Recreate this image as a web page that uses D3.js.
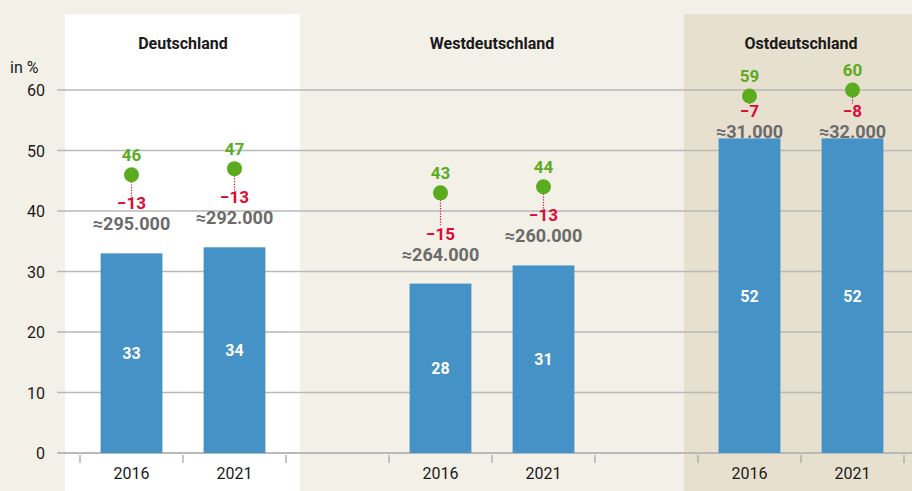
<!DOCTYPE html>
<html>
<head>
<meta charset="utf-8">
<script src="https://cdn.jsdelivr.net/npm/d3@7"></script>
<style>
  html, body { margin: 0; padding: 0; background: #f3f0e8; }
  svg { display: block; font-family: Roboto, "Open Sans", sans-serif; }
</style>
</head>
<body>
<div id="chart"></div>
<script>
// Values
const regions = ["Deutschland", "Westdeutschland", "Ostdeutschland"];
const years = ["2016", "2021"];
const barValues = [33, 34, 28, 31, 52, 52];
const dotValues = [46, 47, 43, 44, 59, 60];
const diffLabels = ["\u221213", "\u221213", "\u221215", "\u221213", "\u22127", "\u22128"];
const countLabels = ["\u2248295.000", "\u2248292.000", "\u2248264.000", "\u2248260.000", "\u224831.000", "\u224832.000"];
const yTicks = [0, 10, 20, 30, 40, 50, 60];

const width = 912, height = 491;
const colors = {
  bg: "#f3f0e8", white: "#ffffff", east: "#e8e0cf",
  bar: "#4592c6", dot: "#5bab1f", diff: "#dc0b35", count: "#6b6b6b",
  grid: "#b9b9b9", text: "#1a1a1a"
};

// slots: two years per region, plus an empty gap slot between regions
const slots = [];
regions.forEach((r, i) => {
  years.forEach(y => slots.push(r + "|" + y));
  if (i < regions.length - 1) slots.push("gap" + i);
});
const rows = [];
regions.forEach((r, i) => years.forEach((y, j) => {
  const k = i * years.length + j;
  rows.push({ region: r, year: y, key: r + "|" + y, bar: barValues[k], dot: dotValues[k], diff: diffLabels[k], count: countLabels[k] });
}));

const svg = d3.select("#chart").append("svg").attr("width", width).attr("height", height);

const x = d3.scaleBand().domain(slots).range([80, 904]).padding(0);
const y = d3.scaleLinear().domain([0, 60]).range([453, 90]);
const step = x.bandwidth();
const barW = step * 0.6;

// panel backgrounds
const first = r => x(r + "|" + years[0]);
svg.append("rect").attr("x", first(regions[0]) - 15).attr("y", 14)
  .attr("width", x("gap0") + 14 - (first(regions[0]) - 15)).attr("height", height - 14)
  .attr("fill", colors.white);
svg.append("rect").attr("x", first(regions[2]) - 14).attr("y", 14)
  .attr("width", width - (first(regions[2]) - 14)).attr("height", height - 14)
  .attr("fill", colors.east);

// region titles
svg.append("g").selectAll("text").data(regions).join("text")
  .attr("x", r => first(r) + step)
  .attr("y", 49)
  .attr("text-anchor", "middle")
  .attr("font-size", 16).attr("font-weight", 700).attr("fill", colors.text)
  .text(r => r);

// grid + y labels
const grid = svg.append("g");
grid.selectAll("line").data(yTicks).join("line")
  .attr("x1", 57).attr("x2", width)
  .attr("y1", d => y(d)).attr("y2", d => y(d))
  .attr("stroke", colors.grid).attr("stroke-width", d => d === 0 ? 2 : 1.3);
grid.selectAll("text").data(yTicks).join("text")
  .attr("x", 45).attr("y", d => y(d) + 6)
  .attr("text-anchor", "end").attr("font-size", 16).attr("fill", colors.text)
  .text(d => d);
svg.append("text").attr("x", 10).attr("y", 73)
  .attr("font-size", 16).attr("fill", colors.text).text("in %");

// x axis ticks at band boundaries + year labels
const boundaries = slots.map(s => x(s)).concat([x(slots[slots.length - 1]) + step]);
svg.append("g").selectAll("line").data(boundaries).join("line")
  .attr("x1", d => d).attr("x2", d => d).attr("y1", 455).attr("y2", 463)
  .attr("stroke", "#a8a8a8").attr("stroke-width", 1.3);
svg.append("g").selectAll("text").data(rows).join("text")
  .attr("x", d => x(d.key) + step / 2).attr("y", 479)
  .attr("text-anchor", "middle").attr("font-size", 16).attr("fill", colors.text)
  .text(d => d.year);

// bars
const cx = d => x(d.key) + step / 2;
svg.append("g").selectAll("rect").data(rows).join("rect")
  .attr("x", d => cx(d) - barW / 2).attr("width", barW)
  .attr("y", d => y(d.bar)).attr("height", d => y(0) - y(d.bar))
  .attr("fill", colors.bar);
svg.append("g").selectAll("text").data(rows).join("text")
  .attr("x", cx).attr("y", d => (y(d.bar) + y(0)) / 2 + 6)
  .attr("text-anchor", "middle").attr("font-size", 16).attr("font-weight", 700)
  .attr("fill", "#fff").text(d => d.bar);

// label layout between dot and bar top (baselines)
rows.forEach(d => {
  const top = y(d.bar), dotY = y(d.dot);
  d.countY = (top - dotY < 60) ? top - 0.5 : top - 23;
  d.diffY = d.countY - 21;
});

const ann = svg.append("g").selectAll("g").data(rows).join("g");
ann.filter(d => d.diffY - 13 > y(d.dot) + 7).append("line")
  .attr("x1", cx).attr("x2", cx)
  .attr("y1", d => y(d.dot) + 7).attr("y2", d => d.diffY - 13)
  .attr("stroke", colors.diff).attr("stroke-width", 1.2).attr("stroke-dasharray", "1.2,1.5");
ann.append("circle")
  .attr("cx", cx).attr("cy", d => y(d.dot)).attr("r", 7.5)
  .attr("fill", colors.dot);
ann.append("text")
  .attr("x", cx).attr("y", d => y(d.dot) - 14)
  .attr("text-anchor", "middle").attr("font-size", 17).attr("font-weight", 700)
  .attr("fill", colors.dot).text(d => d.dot);
ann.append("text")
  .attr("x", cx).attr("y", d => d.diffY)
  .attr("text-anchor", "middle").attr("font-size", 17).attr("font-weight", 700)
  .attr("fill", colors.diff).text(d => d.diff);
ann.append("text")
  .attr("x", cx).attr("y", d => d.countY)
  .attr("text-anchor", "middle").attr("font-size", 18).attr("font-weight", 700)
  .attr("fill", colors.count).text(d => d.count);
</script>
</body>
</html>
